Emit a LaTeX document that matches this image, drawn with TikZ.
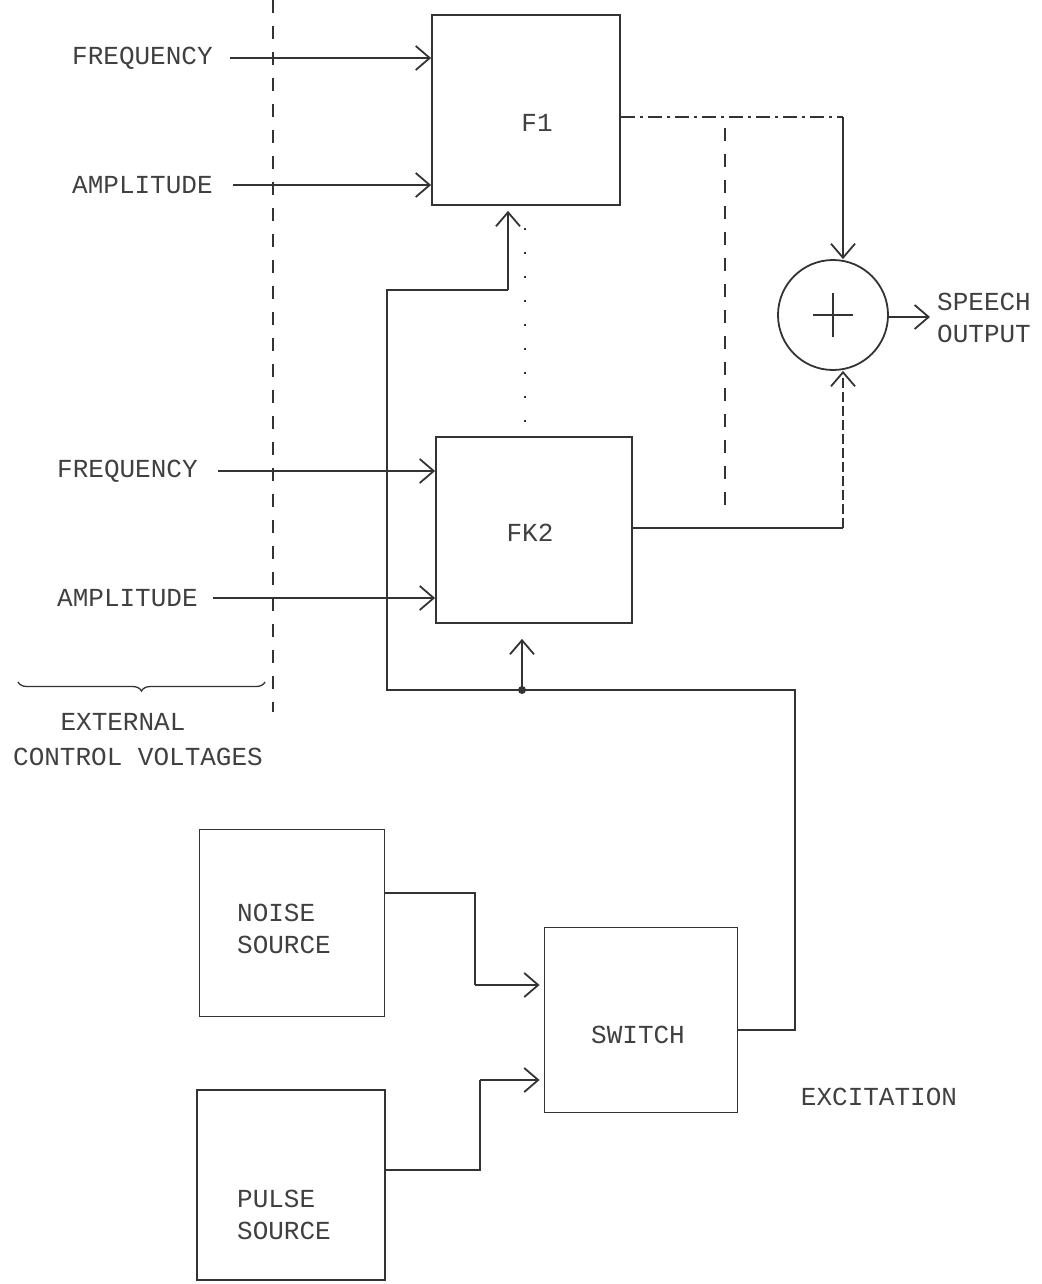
\documentclass[tikz,border=0pt]{standalone}
\usepackage{fontspec}
\setmainfont{Liberation Mono}
\usetikzlibrary{arrows.meta,decorations.pathreplacing}
\begin{document}
\begin{tikzpicture}[x=1pt,y=-1pt,
  ink/.style={draw=black!80, line width=1.8pt},
  blk/.style={ink, rectangle, inner sep=0pt},
  lbl/.style={font=\fontsize{26}{32}\selectfont, text=black!75, inner sep=0pt},
  arr/.style={ink, -{Straight Barb[length=14pt,width=24pt,line width=1.8pt]}},
  bus/.style={ink, line width=1.6pt},
  vdash/.style={ink, line width=1.4pt, dash pattern=on 13pt off 13pt},
  dotline/.style={ink, line width=1.8pt, dash pattern=on 2pt off 22pt},
  ddot/.style={ink, line width=1.4pt, dash pattern=on 14pt off 5pt on 3pt off 5pt},
]
\useasboundingbox (0,0) rectangle (1041,1284);

% blocks
\node[blk, minimum width=188pt, minimum height=190pt] (f1) at (526,110) {};
\node[lbl] (f1t) at (537,123) {F1};
\node[blk, minimum width=196pt, minimum height=186pt] (fk2) at (534,530) {};
\node[lbl] (fk2t) at (530,533) {FK2};
\node[blk, minimum width=185pt, minimum height=187pt] (noise) at (292,923) {};
\node[lbl, align=left] (noiset) at (284,929) {NOISE\\SOURCE};
\node[blk, minimum width=193pt, minimum height=185pt] (sw) at (641,1020) {};
\node[lbl] (swt) at (638,1035) {SWITCH};
\node[blk, minimum width=188pt, minimum height=190pt] (pulse) at (291,1185) {};
\node[lbl, align=left] (pulset) at (284,1215) {PULSE\\SOURCE};
\node[ink, circle, minimum size=110pt, inner sep=0pt] (sum) at (833,315) {};
\draw[ink, line width=1.3pt] ([xshift=-20pt]sum.center) -- ([xshift=20pt]sum.center);
\draw[ink, line width=1.3pt] ([yshift=-22pt]sum.center) -- ([yshift=22pt]sum.center);

% input labels
\node[lbl, anchor=west] (fr1) at (72,58) {FREQUENCY};
\node[lbl, anchor=west] (am1) at (72,185) {AMPLITUDE};
\node[lbl, anchor=west] (fr2) at (57,471) {FREQUENCY};
\node[lbl, anchor=west] (am2) at (57,598) {AMPLITUDE};
\draw[arr] ([xshift=17pt]fr1.east) -- (fr1.east -| f1.west) ;
\draw[arr] ([xshift=20pt]am1.east) -- (am1.east -| f1.west);
\draw[arr] ([xshift=20pt]fr2.east) -- (fr2.east -| fk2.west);
\draw[arr] ([xshift=15pt]am2.east) -- (am2.east -| fk2.west);

% external control boundary
\coordinate (ext1) at (273,0);
\coordinate (ext2) at (273,712);
\draw[vdash] (ext1) -- (ext2);
\coordinate (br1) at (18,682);
\coordinate (br2) at (265,682);
\draw[ink, line width=1.3pt, decorate, decoration={brace, amplitude=9pt}] (br2) -- (br1);
\node[lbl] (extt) at (123,722) {EXTERNAL};
\node[lbl] (ctrlt) at (138,757) {CONTROL VOLTAGES};

% outputs to summer
\coordinate (c1) at (843,117);
\draw[ddot] (f1.east |- c1) -- (c1);
\draw[arr] (c1) -- (sum.north -| c1);
\coordinate (c2) at (843,528);
\draw[ink] (fk2.east |- c2) -- (c2);
\draw[arr, dash pattern=on 10pt off 4pt] (c2) -- (sum.south -| c2);
\coordinate (sp) at (930,317);
\draw[arr] (sum.east |- sp) -- (sp);
\node[lbl, anchor=west, align=left] (spt) at (937,318) {SPEECH\\OUTPUT};

% intermediate filters indication
\coordinate (d1) at (725,128);
\coordinate (d2) at (725,505);
\draw[vdash] (d1) -- (d2);
\coordinate (e1) at (525,228);
\coordinate (e2) at (525,425);
\draw[dotline] (e1) -- (e2);

% excitation bus
\coordinate (j) at (522,690);
\coordinate (b1) at (387,690);
\coordinate (b2) at (387,290);
\coordinate (b3) at (508,290);
\coordinate (b4) at (795,690);
\coordinate (b5) at (795,1030);
\fill[black!80] (j) circle (4pt);
\draw[bus] (j) -- (b1) -- (b2) -- (b3);
\draw[arr] (b3) -- ([yshift=-5pt]b3 |- f1.south);
\draw[arr] (j) -- ([yshift=-15pt]j |- fk2.south);
\draw[bus] (j) -- (b4) -- (b5) -- (sw.east |- b5);
\node[lbl] (exct) at (879,1097) {EXCITATION};

% sources to switch
\coordinate (n1) at (475,893);
\coordinate (n2) at (475,985);
\draw[bus] (noise.east |- n1) -- (n1) -- (n2);
\draw[arr] (n2) -- ([xshift=-4pt]sw.west |- n2);
\coordinate (p1) at (480,1170);
\coordinate (p2) at (480,1080);
\draw[bus] (pulse.east |- p1) -- (p1) -- (p2);
\draw[arr] (p2) -- ([xshift=-4pt]sw.west |- p2);
\end{tikzpicture}
\end{document}
